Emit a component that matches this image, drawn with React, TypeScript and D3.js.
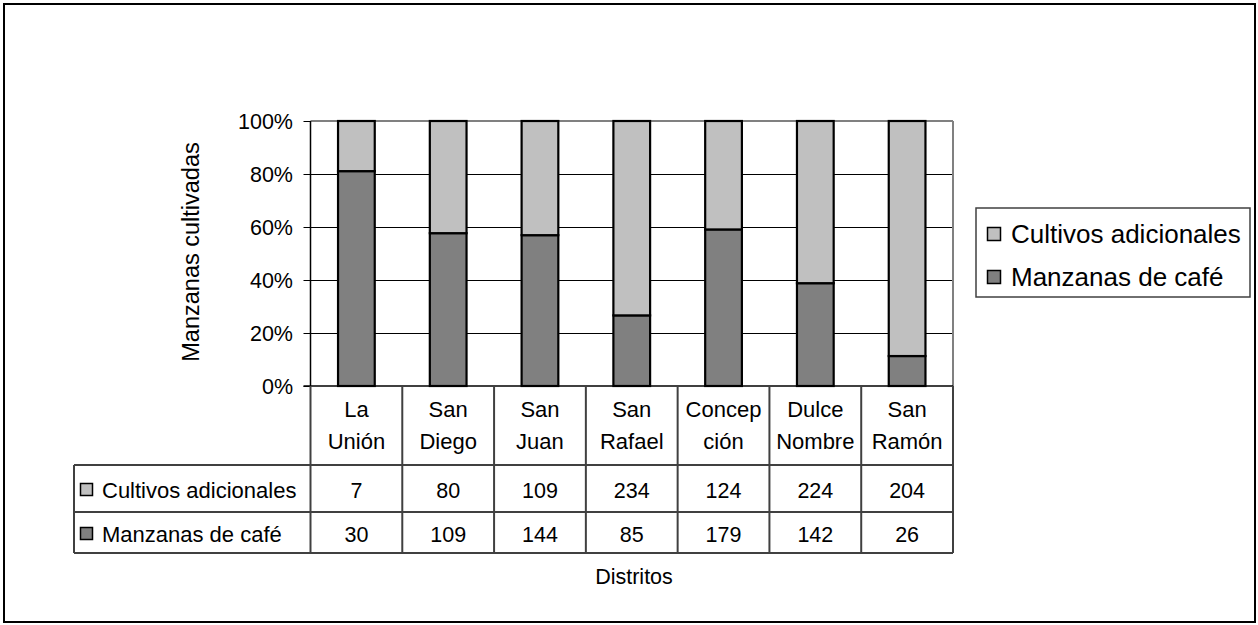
import React from "react";
import * as d3 from "d3";

const categories = [
  ["La", "Unión"],
  ["San", "Diego"],
  ["San", "Juan"],
  ["San", "Rafael"],
  ["Concep", "ción"],
  ["Dulce", "Nombre"],
  ["San", "Ramón"],
];
const cultivosAdicionales = [7, 80, 109, 234, 124, 224, 204];
const manzanasCafe = [30, 109, 144, 85, 179, 142, 26];
const yTicks = [0, 0.2, 0.4, 0.6, 0.8, 1];
const seriesNames = ["Cultivos adicionales", "Manzanas de café"];

const FONT = "'Liberation Sans', Arial, sans-serif";
const LIGHT = "#C0C0C0";
const DARK = "#808080";
const LINE = "#404040";

export default function App() {
  const W = 1258;
  const H = 625;
  const plotL = 310.5;
  const plotR = 953;
  const plotT = 121;
  const plotB = 386;
  const tableL = 74;
  const row1T = 465;
  const row2T = 512;
  const tableB = 553;

  const keys = categories.map((c) => c.join(""));
  const x = d3
    .scaleBand<string>()
    .domain(keys)
    .range([plotL, plotR])
    .paddingInner(0.6)
    .paddingOuter(0.3);
  const y = d3.scaleLinear().domain([0, 1]).range([plotB, plotT]);
  const step = x.step();
  const edges = keys.map((k) => (x(k) as number) - step * 0.3);

  const rows = keys.map((k, i) => ({
    key: k,
    cafe: manzanasCafe[i],
    adic: cultivosAdicionales[i],
  }));
  const stack = d3
    .stack<any>()
    .keys(["cafe", "adic"])
    .offset(d3.stackOffsetExpand);
  const stacked = stack(rows);
  const colors = [DARK, LIGHT];

  const fmt = d3.format(".0%");
  const crisp = (v: number) => Math.round(v) + 0.5;

  return (
    <svg
      width={W}
      height={H}
      style={{ position: "absolute", left: 0, top: 0, display: "block" }}
      fontFamily={FONT}
    >
      <rect x={0} y={0} width={W} height={H} fill="#fff" />
      <rect x={4} y={4} width={1251} height={618} fill="none" stroke="#000" strokeWidth={2} />

      {/* gridlines */}
      {yTicks
        .filter((t) => t > 0 && t < 1)
        .map((t) => (
          <line
            key={"g" + t}
            x1={plotL}
            x2={plotR}
            y1={crisp(y(t))}
            y2={crisp(y(t))}
            stroke="#000"
            strokeWidth={1}
          />
        ))}
      {/* plot border top/right */}
      <line x1={plotL} x2={plotR} y1={plotT} y2={plotT} stroke="#808080" strokeWidth={2} />
      <line x1={plotR} x2={plotR} y1={plotT} y2={plotB} stroke="#808080" strokeWidth={2} />

      {/* bars */}
      {stacked.map((s, si) =>
        s.map((d, i) => (
          <rect
            key={si + "-" + i}
            x={x(keys[i])}
            width={x.bandwidth()}
            y={y(d[1])}
            height={y(d[0]) - y(d[1])}
            fill={colors[si]}
            stroke="#000"
            strokeWidth={2.2}
          />
        ))
      )}

      {/* y axis */}
      <line x1={plotL} x2={plotL} y1={plotT} y2={plotB} stroke="#000" strokeWidth={1.5} />
      {yTicks.map((t) => (
        <g key={"t" + t}>
          <line
            x1={plotL - 7}
            x2={plotL}
            y1={crisp(y(t))}
            y2={crisp(y(t))}
            stroke="#000"
            strokeWidth={1}
          />
          <text x={293} y={y(t)} dy="0.36em" textAnchor="end" fontSize={21.5} fill="#000">
            {fmt(t)}
          </text>
        </g>
      ))}
      <text
        transform={`translate(199,252) rotate(-90)`}
        textAnchor="middle"
        fontSize={23.5}
        fill="#000"
      >
        Manzanas cultivadas
      </text>

      {/* x axis line */}
      <line x1={plotL - 7} x2={plotR} y1={plotB} y2={plotB} stroke="#000" strokeWidth={1.5} />

      {/* data table */}
      {edges.slice(1).map((e, i) => (
        <line key={"v" + i} x1={e} x2={e} y1={plotB} y2={tableB} stroke={LINE} strokeWidth={2} />
      ))}
      <line x1={plotL} x2={plotL} y1={plotB} y2={tableB} stroke={LINE} strokeWidth={2} />
      <line x1={plotR} x2={plotR} y1={plotB} y2={tableB} stroke={LINE} strokeWidth={2} />
      <line x1={tableL} x2={tableL} y1={row1T} y2={tableB} stroke={LINE} strokeWidth={2} />
      <line x1={tableL} x2={plotR} y1={row1T} y2={row1T} stroke={LINE} strokeWidth={2} />
      <line x1={tableL} x2={plotR} y1={row2T} y2={row2T} stroke={LINE} strokeWidth={2} />
      <line x1={tableL} x2={plotR} y1={tableB} y2={tableB} stroke={LINE} strokeWidth={2} />

      {categories.map((c, i) => {
        const cx = (x(keys[i]) as number) + x.bandwidth() / 2;
        return (
          <g key={"c" + i}>
            <text x={cx} y={409} dy="0.36em" textAnchor="middle" fontSize={22} fill="#000">
              {c[0]}
            </text>
            <text x={cx} y={441} dy="0.36em" textAnchor="middle" fontSize={22} fill="#000">
              {c[1]}
            </text>
            <text x={cx} y={490} dy="0.36em" textAnchor="middle" fontSize={21.5} fill="#000">
              {cultivosAdicionales[i]}
            </text>
            <text x={cx} y={534} dy="0.36em" textAnchor="middle" fontSize={21.5} fill="#000">
              {manzanasCafe[i]}
            </text>
          </g>
        );
      })}

      {/* table row legend keys */}
      {[LIGHT, DARK].map((col, i) => {
        const cy = i === 0 ? 490 : 534;
        return (
          <g key={"rk" + i}>
            <rect x={80.5} y={cy - 6.5} width={12} height={12} fill={col} stroke="#000" strokeWidth={1.5} />
            <text x={102} y={cy} dy="0.36em" fontSize={22} fill="#000">
              {seriesNames[i]}
            </text>
          </g>
        );
      })}

      <text x={634} y={576} dy="0.36em" textAnchor="middle" fontSize={21.5} fill="#000">
        Distritos
      </text>

      {/* legend */}
      <rect x={976} y={208} width={274} height={89} fill="#fff" stroke={LINE} strokeWidth={1.5} />
      {[LIGHT, DARK].map((col, i) => {
        const cy = i === 0 ? 234 : 277;
        return (
          <g key={"lg" + i}>
            <rect x={987.5} y={cy - 6.5} width={13} height={13} fill={col} stroke="#000" strokeWidth={1.5} />
            <text x={1011} y={cy} dy="0.36em" fontSize={26} fill="#000">
              {seriesNames[i]}
            </text>
          </g>
        );
      })}
    </svg>
  );
}
